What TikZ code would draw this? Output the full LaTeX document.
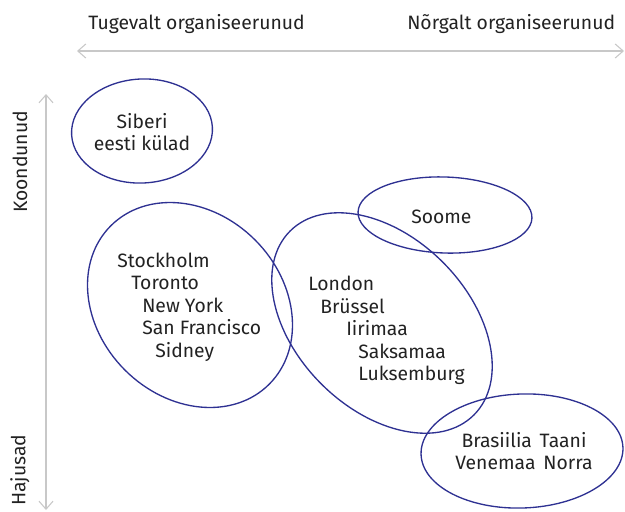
\documentclass[tikz,border=0pt]{standalone}
\usepackage{fontspec}
\setmainfont{Fira Sans}[Ligatures=NoCommon]
\usetikzlibrary{arrows.meta}
\definecolor{grInk} {HTML}{222222}
\definecolor{grRule}{HTML}{C8C8C8}
\definecolor{grNavy}{HTML}{2E3192}

\begin{document}
\begin{tikzpicture}[x=0.75pt,y=-0.75pt,
    axisline/.style={draw=grRule,line width=0.8pt,
      {Straight Barb[length=6pt,width=10.5pt]}-{Straight Barb[length=6pt,width=10.5pt]}},
    zone/.style={draw=grNavy,line width=1pt},
    lbl/.style={text=grInk,font=\fontsize{14.5}{17}\selectfont,inner sep=0pt,anchor=base west},
    grp/.style={text=grInk,font=\fontsize{14.5}{16.5}\selectfont,inner sep=0pt,align=center}]
  \useasboundingbox (0,0) rectangle (625,511);

  % axes
  \coordinate (xL) at (77,51);
  \coordinate (xR) at (624,51);
  \coordinate (yT) at (46,94);
  \coordinate (yB) at (46,510);
  \draw[axisline] (xL) -- (xR);
  \draw[axisline] (yB) -- (yT);

  \node[lbl] (strong) at (88,29) {Tugevalt organiseerunud};
  \node[lbl] (weak)   at (407,29) {Nõrgalt organiseerunud};
  \node[grp,rotate=90] (dense)  at (20,162) {Koondunud};
  \node[grp,rotate=90] (spread) at (20,470) {Hajusad};

  % groups
  \draw[zone,rotate around={3:(142,131)}]  (142,131) ellipse [x radius=70.5,y radius=52];
  \draw[zone,rotate around={-2:(445,215)}] (445,215) ellipse [x radius=87,y radius=38];
  \draw[zone,rotate around={-45:(190,305)}] (190,305) ellipse [x radius=112,y radius=92];
  \draw[zone,rotate around={-45:(382,323)}] (382,323) ellipse [x radius=130,y radius=86];
  \draw[zone,rotate around={2:(522,451)}]  (522,451) ellipse [x radius=101,y radius=57];

  \node[grp] (siberia) at (142,132) {Siberi\\eesti külad};
  \node[lbl] (finland) at (411,223) {Soome};
  \node[grp] (nordic)  at (524,451) {Brasiilia\hspace{0.4em}Taani\\Venemaa\hspace{0.4em}Norra};

  \node[lbl] (sto) at (117,267) {Stockholm};
  \node[lbl] (tor) at (131,289) {Toronto};
  \node[lbl] (nyc) at (142,312) {New York};
  \node[lbl] (sfo) at (142,334) {San Francisco};
  \node[lbl] (syd) at (155,357) {Sidney};

  \node[lbl] (lon) at (308,290) {London};
  \node[lbl] (bru) at (320,313) {Brüssel};
  \node[lbl] (irl) at (346,335) {Iirimaa};
  \node[lbl] (ger) at (358,358) {Saksamaa};
  \node[lbl] (lux) at (358,380) {Luksemburg};
\end{tikzpicture}
\end{document}
